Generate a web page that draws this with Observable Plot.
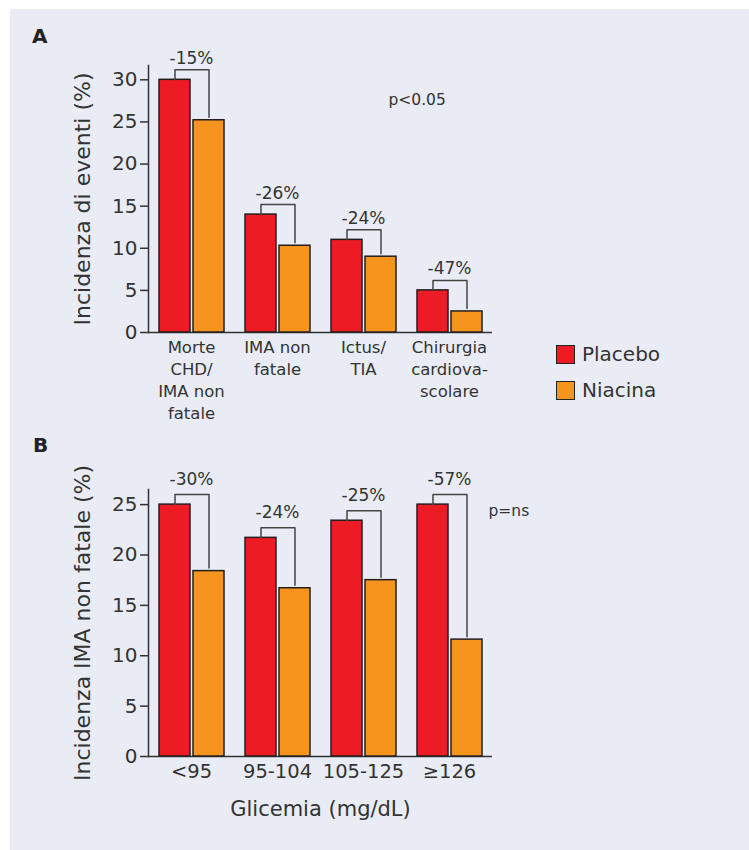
<!DOCTYPE html>
<html>
<head>
<meta charset="utf-8">
<script src="https://cdn.jsdelivr.net/npm/d3@7"></script>
<script src="https://cdn.jsdelivr.net/npm/@observablehq/plot@0.6"></script>
<style>
  body { margin: 0; background: #fff; font-family: "DejaVu Sans", sans-serif; color: #333; }
  #page { position: relative; width: 749px; height: 850px; overflow: hidden; }
  #panel { position: absolute; left: 10px; top: 9px; width: 739px; height: 841px; background: #e9ecf4; }
  .chart { position: absolute; left: 0; }
  .chart svg { overflow: visible; }
  .tag { position: absolute; font-weight: bold; font-size: 20px; line-height: 20px; color: #222; }
  #legend { position: absolute; left: 556px; top: 344px; }
  .item { display: flex; align-items: center; height: 20px; margin-bottom: 16px; font-size: 20px; color: #333; }
  .sw { width: 17px; height: 17px; border: 1.5px solid #222; margin-right: 7px; }
</style>
</head>
<body>
<div id="page">
  <div id="panel"></div>
  <div class="tag" style="left:32px; top:26px;">A</div>
  <div class="tag" style="left:33px; top:435px;">B</div>
  <div id="chartA" class="chart" style="top:0px;"></div>
  <div id="chartB" class="chart" style="top:430px;"></div>
  <div id="legend"></div>
</div>
<script>
// Treatment arms and their colours
const series = ["Placebo", "Niacina"];
const colors = ["#ed1c24", "#f7941d"];

// Panel A: event incidence (%) by type of event
const eventsA = ["Morte\nCHD/\nIMA non\nfatale", "IMA non\nfatale", "Ictus/\nTIA", "Chirurgia\ncardiova-\nscolare"];
const placeboA = [30, 14, 11, 5];
const niacinaA = [25.2, 10.3, 9, 2.5];
const changeA = ["-15%", "-26%", "-24%", "-47%"];
const ticksA = [0, 5, 10, 15, 20, 25, 30];

// Panel B: non-fatal MI incidence (%) by fasting glucose class
const glicemiaB = ["<95", "95-104", "105-125", "≥126"];
const placeboB = [25, 21.7, 23.4, 25];
const niacinaB = [18.4, 16.7, 17.5, 11.6];
const changeB = ["-30%", "-24%", "-25%", "-57%"];
const ticksB = [0, 5, 10, 15, 20, 25];

const ink = "#333";
const font = "DejaVu Sans";

function groupedChart({cats, placebo, niacina, change, ticks, yMax, height, marginTop, marginBottom,
                       yLabel, xLabel, catFont, catLineHeight, catPadding, labelGap, pText, pDx, pDy}) {
  const marginLeft = 148, marginRight = 257;
  const pxPerUnit = (height - marginTop - marginBottom) / yMax;
  const rise = 10 / pxPerUnit, gap = 3 / pxPerUnit;

  const bars = cats.flatMap((c, i) => [
    {cat: c, series: series[0], value: placebo[i]},
    {cat: c, series: series[1], value: niacina[i]}
  ]);
  // Bracket joining each pair of bars: up from placebo, across, down towards niacina
  const brackets = cats.flatMap((c, i) => {
    const top = placebo[i] + rise;
    return [
      {cat: c, series: series[0], y: placebo[i]},
      {cat: c, series: series[0], y: top},
      {cat: c, series: series[1], y: top},
      {cat: c, series: series[1], y: niacina[i] + gap}
    ];
  });
  const notes = cats.map((c, i) => ({cat: c, y: placebo[i] + rise, text: change[i]}));

  const marks = [
    Plot.ruleY([0], {stroke: ink, strokeWidth: 1.5}),
    Plot.frame({anchor: "left", facetAnchor: "left", stroke: ink, strokeWidth: 1.5}),
    Plot.barY(bars, {fx: "cat", x: "series", y: "value", fill: "series", stroke: "#231f20", strokeWidth: 1.5}),
    Plot.line(brackets, {fx: "cat", x: "series", y: "y", z: "cat", stroke: "#444", strokeWidth: 1.5}),
    Plot.text(notes, {fx: "cat", y: "y", text: "text", lineAnchor: "bottom", dy: -labelGap, fontSize: 17, fill: ink}),
    Plot.text([pText], {facet: "super", frameAnchor: "top-right", textAnchor: "start", dx: pDx, dy: pDy, fontSize: 15.5, fill: ink}),
    Plot.axisY({ticks, tickSize: 8, tickPadding: 3, fontSize: 20, label: null, stroke: ink, strokeWidth: 1.5, fill: ink}),
    Plot.axisY({ticks: [], label: yLabel, labelAnchor: "center", labelArrow: "none", labelOffset: 74, fontSize: 22, fill: ink}),
    Plot.axisFx({anchor: "bottom", tickSize: 0, tickPadding: catPadding, fontSize: catFont, lineHeight: catLineHeight, label: null, fill: ink})
  ];
  if (xLabel) {
    marks.push(Plot.axisFx({anchor: "bottom", ticks: [], label: xLabel, labelAnchor: "center", labelArrow: "none", labelOffset: 59, fontSize: 21, fill: ink}));
  }

  return Plot.plot({
    width: 749,
    height,
    marginLeft, marginRight, marginTop, marginBottom,
    style: {fontFamily: font, background: "transparent", color: ink},
    fx: {domain: cats, padding: 0, label: null, axis: null},
    x: {domain: series, paddingInner: 0.1, paddingOuter: 0.3, axis: null},
    y: {domain: [0, yMax], axis: null},
    color: {domain: series, range: colors},
    marks
  });
}

document.getElementById("chartA").append(groupedChart({
  cats: eventsA, placebo: placeboA, niacina: niacinaA, change: changeA, ticks: ticksA,
  yMax: 31.7, height: 430, marginTop: 65, marginBottom: 98,
  yLabel: "Incidenza di eventi (%)", xLabel: null,
  catFont: 16.5, catLineHeight: 1.33, catPadding: 5, labelGap: 6,
  pText: "p<0.05", pDx: -104, pDy: 28
}));

document.getElementById("chartB").append(groupedChart({
  cats: glicemiaB, placebo: placeboB, niacina: niacinaB, change: changeB, ticks: ticksB,
  yMax: 26.5, height: 420, marginTop: 59, marginBottom: 94,
  yLabel: "Incidenza IMA non fatale (%)", xLabel: "Glicemia (mg/dL)",
  catFont: 19.5, catLineHeight: 1, catPadding: 7.5, labelGap: 10,
  pText: "p=ns", pDx: -4, pDy: 15
}));

// Legend for the two arms
const legend = document.getElementById("legend");
series.forEach((s, i) => {
  const item = document.createElement("div");
  item.className = "item";
  const sw = document.createElement("div");
  sw.className = "sw";
  sw.style.background = colors[i];
  item.append(sw, document.createTextNode(s));
  legend.append(item);
});
</script>
</body>
</html>
